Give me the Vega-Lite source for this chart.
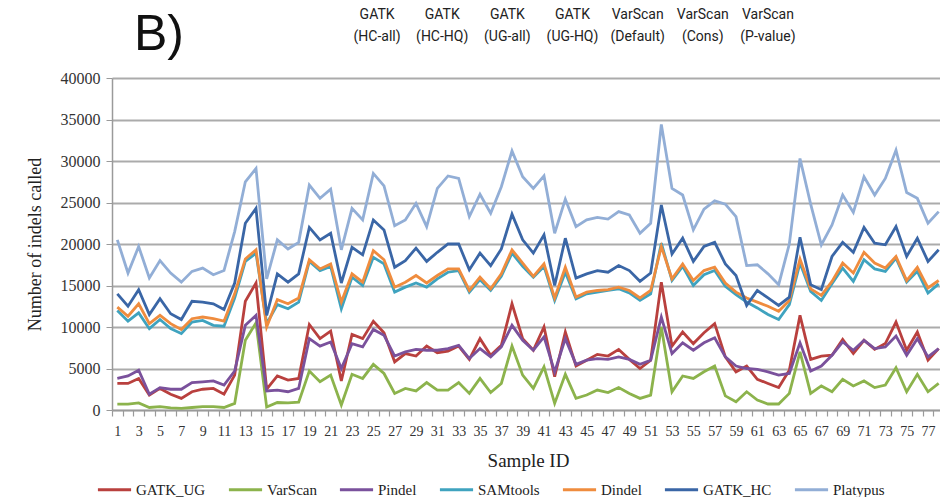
{
  "$schema": "https://vega.github.io/schema/vega-lite/v6.json",
  "autosize": "none",
  "width": 828,
  "height": 332,
  "padding": {"left": 112, "top": 78, "right": 0, "bottom": 87},
  "background": "white",
  "title": {
    "text": "B)",
    "anchor": "start",
    "frame": "group",
    "dx": 22,
    "offset": -53,
    "font": "Liberation Sans",
    "fontSize": 50,
    "fontWeight": "normal",
    "color": "#111"
  },
  "config": {
    "view": {"stroke": null},
    "axis": {"labelFont": "Liberation Serif", "titleFont": "Liberation Serif", "labelColor": "#333", "titleColor": "#222", "titleFontWeight": "normal"}
  },
  "layer": [
    {
      "data": {
        "values": [
          {"s":1,"GATK_UG":3200,"VarScan":700,"Pindel":3800,"SAMtools":12000,"Dindel":12400,"GATK_HC":14000,"Platypus":20500},
          {"s":2,"GATK_UG":3200,"VarScan":700,"Pindel":4100,"SAMtools":10700,"Dindel":11300,"GATK_HC":12500,"Platypus":16500},
          {"s":3,"GATK_UG":3800,"VarScan":850,"Pindel":4800,"SAMtools":11700,"Dindel":12800,"GATK_HC":14500,"Platypus":19700},
          {"s":4,"GATK_UG":1800,"VarScan":300,"Pindel":1900,"SAMtools":9800,"Dindel":10400,"GATK_HC":11500,"Platypus":15900},
          {"s":5,"GATK_UG":2600,"VarScan":400,"Pindel":2700,"SAMtools":10900,"Dindel":11400,"GATK_HC":13400,"Platypus":18000},
          {"s":6,"GATK_UG":1900,"VarScan":250,"Pindel":2500,"SAMtools":9800,"Dindel":10400,"GATK_HC":11600,"Platypus":16500},
          {"s":7,"GATK_UG":1400,"VarScan":200,"Pindel":2500,"SAMtools":9200,"Dindel":9700,"GATK_HC":10900,"Platypus":15400},
          {"s":8,"GATK_UG":2200,"VarScan":300,"Pindel":3300,"SAMtools":10600,"Dindel":11000,"GATK_HC":13100,"Platypus":16700},
          {"s":9,"GATK_UG":2500,"VarScan":400,"Pindel":3400,"SAMtools":10800,"Dindel":11200,"GATK_HC":13000,"Platypus":17100},
          {"s":10,"GATK_UG":2600,"VarScan":400,"Pindel":3500,"SAMtools":10200,"Dindel":11000,"GATK_HC":12800,"Platypus":16300},
          {"s":11,"GATK_UG":1900,"VarScan":300,"Pindel":3000,"SAMtools":10100,"Dindel":10700,"GATK_HC":12100,"Platypus":16800},
          {"s":12,"GATK_UG":4200,"VarScan":800,"Pindel":4700,"SAMtools":13500,"Dindel":14000,"GATK_HC":15300,"Platypus":21500},
          {"s":13,"GATK_UG":13100,"VarScan":8400,"Pindel":10200,"SAMtools":17900,"Dindel":18200,"GATK_HC":22500,"Platypus":27500},
          {"s":14,"GATK_UG":15300,"VarScan":10500,"Pindel":11400,"SAMtools":18900,"Dindel":19300,"GATK_HC":24300,"Platypus":29100},
          {"s":15,"GATK_UG":2500,"VarScan":350,"Pindel":2300,"SAMtools":10400,"Dindel":10000,"GATK_HC":11400,"Platypus":15800},
          {"s":16,"GATK_UG":4100,"VarScan":900,"Pindel":2400,"SAMtools":12700,"Dindel":13300,"GATK_HC":16400,"Platypus":20500},
          {"s":17,"GATK_UG":3600,"VarScan":850,"Pindel":2200,"SAMtools":12200,"Dindel":12800,"GATK_HC":15400,"Platypus":19400},
          {"s":18,"GATK_UG":3800,"VarScan":950,"Pindel":2600,"SAMtools":13000,"Dindel":13500,"GATK_HC":16400,"Platypus":20200},
          {"s":19,"GATK_UG":10300,"VarScan":4700,"Pindel":8600,"SAMtools":17900,"Dindel":18100,"GATK_HC":22000,"Platypus":27100},
          {"s":20,"GATK_UG":8600,"VarScan":3400,"Pindel":7700,"SAMtools":16800,"Dindel":17000,"GATK_HC":20500,"Platypus":25500},
          {"s":21,"GATK_UG":9500,"VarScan":4200,"Pindel":8200,"SAMtools":17300,"Dindel":17600,"GATK_HC":21300,"Platypus":26600},
          {"s":22,"GATK_UG":3500,"VarScan":600,"Pindel":5000,"SAMtools":12200,"Dindel":13000,"GATK_HC":15300,"Platypus":19300},
          {"s":23,"GATK_UG":9100,"VarScan":4300,"Pindel":8000,"SAMtools":16000,"Dindel":16400,"GATK_HC":19600,"Platypus":24300},
          {"s":24,"GATK_UG":8600,"VarScan":3800,"Pindel":7600,"SAMtools":15000,"Dindel":15400,"GATK_HC":18700,"Platypus":22900},
          {"s":25,"GATK_UG":10700,"VarScan":5500,"Pindel":9700,"SAMtools":18400,"Dindel":19200,"GATK_HC":22900,"Platypus":28500},
          {"s":26,"GATK_UG":9300,"VarScan":4400,"Pindel":9000,"SAMtools":17600,"Dindel":18100,"GATK_HC":21700,"Platypus":27000},
          {"s":27,"GATK_UG":5800,"VarScan":2000,"Pindel":6500,"SAMtools":14200,"Dindel":14800,"GATK_HC":17200,"Platypus":22200},
          {"s":28,"GATK_UG":6800,"VarScan":2600,"Pindel":7000,"SAMtools":14800,"Dindel":15400,"GATK_HC":18000,"Platypus":22900},
          {"s":29,"GATK_UG":6500,"VarScan":2300,"Pindel":7300,"SAMtools":15300,"Dindel":16200,"GATK_HC":19500,"Platypus":24900},
          {"s":30,"GATK_UG":7700,"VarScan":3300,"Pindel":7200,"SAMtools":14800,"Dindel":15300,"GATK_HC":17900,"Platypus":22100},
          {"s":31,"GATK_UG":6900,"VarScan":2400,"Pindel":7200,"SAMtools":15800,"Dindel":16200,"GATK_HC":19000,"Platypus":26700},
          {"s":32,"GATK_UG":7100,"VarScan":2400,"Pindel":7400,"SAMtools":16600,"Dindel":17000,"GATK_HC":20000,"Platypus":28200},
          {"s":33,"GATK_UG":7700,"VarScan":3300,"Pindel":7800,"SAMtools":16800,"Dindel":17000,"GATK_HC":20000,"Platypus":27900},
          {"s":34,"GATK_UG":6100,"VarScan":2000,"Pindel":6200,"SAMtools":14200,"Dindel":14400,"GATK_HC":16900,"Platypus":23300},
          {"s":35,"GATK_UG":8600,"VarScan":3800,"Pindel":7400,"SAMtools":15700,"Dindel":16000,"GATK_HC":18900,"Platypus":26000},
          {"s":36,"GATK_UG":6600,"VarScan":2100,"Pindel":6400,"SAMtools":14400,"Dindel":14600,"GATK_HC":17400,"Platypus":23700},
          {"s":37,"GATK_UG":7800,"VarScan":3200,"Pindel":7600,"SAMtools":16100,"Dindel":16400,"GATK_HC":19400,"Platypus":26900},
          {"s":38,"GATK_UG":12800,"VarScan":7700,"Pindel":10200,"SAMtools":18900,"Dindel":19300,"GATK_HC":23600,"Platypus":31200},
          {"s":39,"GATK_UG":8600,"VarScan":4200,"Pindel":8400,"SAMtools":17300,"Dindel":17700,"GATK_HC":20500,"Platypus":28100},
          {"s":40,"GATK_UG":7200,"VarScan":2600,"Pindel":7200,"SAMtools":16000,"Dindel":16100,"GATK_HC":18900,"Platypus":26700},
          {"s":41,"GATK_UG":10000,"VarScan":5200,"Pindel":8800,"SAMtools":17300,"Dindel":17600,"GATK_HC":21100,"Platypus":28200},
          {"s":42,"GATK_UG":4000,"VarScan":800,"Pindel":4600,"SAMtools":13200,"Dindel":13500,"GATK_HC":15000,"Platypus":21300},
          {"s":43,"GATK_UG":9400,"VarScan":4300,"Pindel":8600,"SAMtools":16600,"Dindel":17200,"GATK_HC":20700,"Platypus":25400},
          {"s":44,"GATK_UG":5300,"VarScan":1400,"Pindel":5500,"SAMtools":13400,"Dindel":13600,"GATK_HC":15900,"Platypus":22100},
          {"s":45,"GATK_UG":6000,"VarScan":1800,"Pindel":6000,"SAMtools":14000,"Dindel":14200,"GATK_HC":16400,"Platypus":22900},
          {"s":46,"GATK_UG":6700,"VarScan":2400,"Pindel":6200,"SAMtools":14200,"Dindel":14400,"GATK_HC":16800,"Platypus":23200},
          {"s":47,"GATK_UG":6500,"VarScan":2100,"Pindel":6100,"SAMtools":14400,"Dindel":14500,"GATK_HC":16600,"Platypus":23000},
          {"s":48,"GATK_UG":7300,"VarScan":2700,"Pindel":6400,"SAMtools":14600,"Dindel":14800,"GATK_HC":17400,"Platypus":23900},
          {"s":49,"GATK_UG":6100,"VarScan":2000,"Pindel":6100,"SAMtools":14100,"Dindel":14400,"GATK_HC":16800,"Platypus":23500},
          {"s":50,"GATK_UG":5000,"VarScan":1400,"Pindel":5500,"SAMtools":13200,"Dindel":13500,"GATK_HC":15500,"Platypus":21300},
          {"s":51,"GATK_UG":6000,"VarScan":1800,"Pindel":6000,"SAMtools":14000,"Dindel":14400,"GATK_HC":16500,"Platypus":22500},
          {"s":52,"GATK_UG":15400,"VarScan":10000,"Pindel":11200,"SAMtools":20100,"Dindel":19700,"GATK_HC":24700,"Platypus":34400},
          {"s":53,"GATK_UG":7700,"VarScan":2200,"Pindel":6800,"SAMtools":15600,"Dindel":15800,"GATK_HC":18800,"Platypus":26700},
          {"s":54,"GATK_UG":9400,"VarScan":4100,"Pindel":8100,"SAMtools":17300,"Dindel":17600,"GATK_HC":20700,"Platypus":25900},
          {"s":55,"GATK_UG":8000,"VarScan":3800,"Pindel":7200,"SAMtools":15000,"Dindel":15600,"GATK_HC":17900,"Platypus":21700},
          {"s":56,"GATK_UG":9300,"VarScan":4600,"Pindel":8100,"SAMtools":16300,"Dindel":16800,"GATK_HC":19700,"Platypus":24200},
          {"s":57,"GATK_UG":10400,"VarScan":5300,"Pindel":8700,"SAMtools":16800,"Dindel":17200,"GATK_HC":20200,"Platypus":25200},
          {"s":58,"GATK_UG":6400,"VarScan":1700,"Pindel":6400,"SAMtools":14900,"Dindel":15300,"GATK_HC":17600,"Platypus":24800},
          {"s":59,"GATK_UG":4600,"VarScan":1000,"Pindel":5300,"SAMtools":13900,"Dindel":14200,"GATK_HC":16200,"Platypus":23300},
          {"s":60,"GATK_UG":5300,"VarScan":2200,"Pindel":5000,"SAMtools":13000,"Dindel":13500,"GATK_HC":12600,"Platypus":17400},
          {"s":61,"GATK_UG":3700,"VarScan":1200,"Pindel":4900,"SAMtools":12300,"Dindel":13000,"GATK_HC":14400,"Platypus":17500},
          {"s":62,"GATK_UG":3200,"VarScan":720,"Pindel":4600,"SAMtools":11500,"Dindel":12500,"GATK_HC":13500,"Platypus":16400},
          {"s":63,"GATK_UG":2700,"VarScan":720,"Pindel":4200,"SAMtools":10900,"Dindel":11900,"GATK_HC":12600,"Platypus":15100},
          {"s":64,"GATK_UG":4800,"VarScan":2000,"Pindel":4400,"SAMtools":12700,"Dindel":13200,"GATK_HC":13600,"Platypus":20000},
          {"s":65,"GATK_UG":11400,"VarScan":7000,"Pindel":8100,"SAMtools":17700,"Dindel":18200,"GATK_HC":20800,"Platypus":30300},
          {"s":66,"GATK_UG":6100,"VarScan":2000,"Pindel":4700,"SAMtools":14300,"Dindel":14600,"GATK_HC":15100,"Platypus":24800},
          {"s":67,"GATK_UG":6500,"VarScan":2900,"Pindel":5300,"SAMtools":13200,"Dindel":13800,"GATK_HC":14500,"Platypus":19900},
          {"s":68,"GATK_UG":6600,"VarScan":2200,"Pindel":6600,"SAMtools":15200,"Dindel":15500,"GATK_HC":18500,"Platypus":22300},
          {"s":69,"GATK_UG":8500,"VarScan":3700,"Pindel":8200,"SAMtools":17100,"Dindel":17700,"GATK_HC":20200,"Platypus":25900},
          {"s":70,"GATK_UG":6800,"VarScan":2900,"Pindel":7200,"SAMtools":15500,"Dindel":16500,"GATK_HC":19000,"Platypus":23800},
          {"s":71,"GATK_UG":8400,"VarScan":3500,"Pindel":8400,"SAMtools":18100,"Dindel":19000,"GATK_HC":22000,"Platypus":28100},
          {"s":72,"GATK_UG":7300,"VarScan":2700,"Pindel":7400,"SAMtools":17000,"Dindel":17700,"GATK_HC":20100,"Platypus":25900},
          {"s":73,"GATK_UG":8000,"VarScan":3000,"Pindel":7600,"SAMtools":16700,"Dindel":17100,"GATK_HC":19900,"Platypus":27900},
          {"s":74,"GATK_UG":10600,"VarScan":5100,"Pindel":8900,"SAMtools":18300,"Dindel":18500,"GATK_HC":22100,"Platypus":31300},
          {"s":75,"GATK_UG":7200,"VarScan":2200,"Pindel":6600,"SAMtools":15400,"Dindel":15600,"GATK_HC":18500,"Platypus":26200},
          {"s":76,"GATK_UG":9400,"VarScan":4300,"Pindel":8600,"SAMtools":16700,"Dindel":17200,"GATK_HC":20700,"Platypus":25500},
          {"s":77,"GATK_UG":6000,"VarScan":2200,"Pindel":6400,"SAMtools":14100,"Dindel":14700,"GATK_HC":17900,"Platypus":22500},
          {"s":78,"GATK_UG":7400,"VarScan":3200,"Pindel":7400,"SAMtools":15200,"Dindel":15600,"GATK_HC":19300,"Platypus":23900}
        ]
      },
      "transform": [
        {"fold": ["GATK_UG", "VarScan", "Pindel", "SAMtools", "Dindel", "GATK_HC", "Platypus"], "as": ["tool", "count"]}
      ],
      "mark": {"type": "line", "strokeWidth": 2.8, "clip": false},
      "encoding": {
        "x": {
          "field": "s",
          "type": "ordinal",
          "bandPosition": 0.5,
          "scale": {"type": "band", "paddingInner": 0, "paddingOuter": 0, "range": [0, 832]},
          "axis": {
            "title": "Sample ID",
            "titleFontSize": 19,
            "titlePadding": 13,
            "labelAngle": 0,
            "labelFontSize": 14,
            "labelPadding": 8,
            "labelOverlap": false,
            "labelExpr": "datum.value % 2 == 1 ? datum.label : ''",
            "tickBand": "extent",
            "tickSize": 6,
            "tickColor": "#9a9a9a",
            "tickWidth": 1.2,
            "domainColor": "#9a9a9a",
            "domainWidth": 1.5,
            "grid": false
          }
        },
        "y": {
          "field": "count",
          "type": "quantitative",
          "scale": {"domain": [0, 40000], "nice": false},
          "axis": {
            "title": "Number of indels called",
            "titleFontSize": 18,
            "titlePadding": 16,
            "values": [0, 5000, 10000, 15000, 20000, 25000, 30000, 35000, 40000],
            "format": "d",
            "labelFontSize": 16,
            "labelPadding": 6,
            "tickSize": 6,
            "tickColor": "#9a9a9a",
            "domainColor": "#9a9a9a",
            "domainWidth": 1.5,
            "gridColor": "#ababab",
            "gridWidth": 1.8
          }
        },
        "color": {
          "field": "tool",
          "type": "nominal",
          "scale": {
            "domain": ["GATK_UG", "VarScan", "Pindel", "SAMtools", "Dindel", "GATK_HC", "Platypus"],
            "range": ["#b9403e", "#8cb34c", "#7a519c", "#3fa3bf", "#ef8c3e", "#3a66a6", "#92aed6"]
          },
          "legend": {
            "title": null,
            "orient": "none",
            "legendX": -16,
            "legendY": 393,
            "direction": "horizontal",
            "symbolType": "stroke",
            "symbolSize": 1100,
            "symbolStrokeWidth": 3,
            "labelFont": "Liberation Serif",
            "labelFontSize": 15,
            "labelColor": "#222",
            "labelOffset": 3,
            "columnPadding": 16
          }
        }
      }
    },
    {
      "data": {
        "values": [
          {"h": "GATK|(HC-all)"},
          {"h": "GATK|(HC-HQ)"},
          {"h": "GATK|(UG-all)"},
          {"h": "GATK|(UG-HQ)"},
          {"h": "VarScan|(Default)"},
          {"h": "VarScan|(Cons)"},
          {"h": "VarScan|(P-value)"}
        ]
      },
      "mark": {"type": "text", "text": ""},
      "encoding": {
        "x": {
          "field": "h",
          "type": "nominal",
          "sort": null,
          "scale": {"type": "point", "range": [232, 688]},
          "axis": {
            "orient": "top",
            "title": null,
            "domain": false,
            "ticks": false,
            "grid": false,
            "labelAngle": 0,
            "labelOverlap": false,
            "labelBound": false,
            "labelPadding": 57,
            "labelFont": "Roboto",
            "labelFontSize": 14,
            "labelLineHeight": 22,
            "labelColor": "#222",
            "labelExpr": "split(datum.label, '|')"
          }
        }
      }
    }
  ],
  "resolve": {"scale": {"x": "independent"}}
}
